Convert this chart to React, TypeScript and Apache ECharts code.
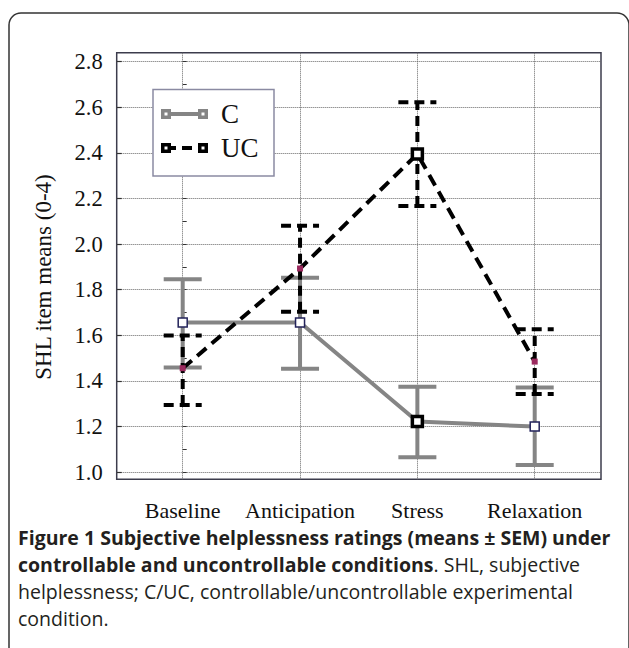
import React, { useEffect, useRef } from "react";
import * as echarts from "echarts";

const categories = ["Baseline", "Anticipation", "Stress", "Relaxation"];
const cMeans = [1.656, 1.656, 1.222, 1.2];
const cUpper = [1.846, 1.852, 1.375, 1.371];
const cLower = [1.459, 1.454, 1.066, 1.032];
const ucMeans = [1.456, 1.893, 2.395, 1.485];
const ucUpper = [1.599, 2.08, 2.622, 1.627];
const ucLower = [1.295, 1.704, 2.167, 1.343];
const yLabelTicks = [1.0, 1.2, 1.4, 1.6, 1.8, 2.0, 2.2, 2.4, 2.6, 2.8];
const yMinorTicks = [1.0, 1.1, 1.2, 1.3, 1.4, 1.5, 1.6, 1.7, 1.8, 1.9, 2.0, 2.1, 2.2, 2.3, 2.4, 2.5, 2.6, 2.7, 2.8];
const xTicks = [0, 1, 2, 3];
const yAxisTitle = "SHL item means (0-4)";
const legendNames = ["C", "UC"];

const SERIF = "'Liberation Serif', 'Times New Roman', serif";
const SANS = "'Open Sans', 'Noto Sans', sans-serif";
const CAP = 19.5;

function errorBarSeries(name: string, lower: number[], upper: number[], color: string, dash: any, z: number) {
  return {
    type: "custom",
    name,
    z,
    silent: true,
    data: lower.map((lo, i) => [i, lo, upper[i]]),
    renderItem: (params: any, api: any) => {
      const x = api.value(0);
      const pLo = api.coord([x, api.value(1)]);
      const pHi = api.coord([x, api.value(2)]);
      const half = 19;
      const style = { stroke: color, lineWidth: 4, lineDash: dash, fill: null };
      return {
        type: "group",
        children: [
          { type: "line", shape: { x1: pLo[0], y1: pLo[1], x2: pHi[0], y2: pHi[1] }, style },
          { type: "line", shape: { x1: pHi[0] - half, y1: pHi[1], x2: pHi[0] + half, y2: pHi[1] }, style },
          { type: "line", shape: { x1: pLo[0] - half, y1: pLo[1], x2: pLo[0] + half, y2: pLo[1] }, style },
        ],
      };
    },
  };
}

const whiteSq = { color: "#ffffff", borderColor: "#22225a", borderWidth: 1.5 };
const blackSq = { color: "#ffffff", borderColor: "#000000", borderWidth: 3.5 };
const magenta = { color: "#9b2a5e", borderColor: "#9b2a5e", borderWidth: 0 };
const cMarkerStyles = [whiteSq, whiteSq, blackSq, whiteSq];
const cMarkerSizes = [9, 9, 10, 9];
const ucMarkerStyles = [magenta, magenta, blackSq, magenta];
const ucMarkerSizes = [6, 6, 10, 6];

export default function App() {
  const ref = useRef<HTMLDivElement>(null);
  useEffect(() => {
    if (!ref.current) return;
    const chart = echarts.init(ref.current, null, { renderer: "svg" });
    const legendSq = (x: number, y: number, c: string) => [
      { type: "rect", shape: { x: x - 5, y: y - 5, width: 10, height: 10 }, style: { fill: c }, z: 12 },
      { type: "rect", shape: { x: x - 1.5, y: y - 1.5, width: 3, height: 3 }, style: { fill: "#fff" }, z: 13 },
    ];
    const option: any = {
      animation: false,
      backgroundColor: "#ffffff",
      grid: {
        left: 116.7,
        top: 52.7,
        width: 484.3,
        height: 426.6,
        show: true,
        borderColor: "#3c3c4c",
        borderWidth: 1.5,
        backgroundColor: "#ffffff",
        z: 0,
      },
      xAxis: {
        type: "value",
        min: -0.5625,
        max: 3.565,
        axisLine: { show: false },
        axisTick: { show: false, customValues: xTicks },
        axisLabel: {
          customValues: xTicks,
          formatter: (v: number) => categories[Math.round(v)] ?? "",
          fontFamily: SERIF,
          fontSize: 22,
          color: "#111",
          margin: 20,
        },
        splitLine: { show: true, lineStyle: { color: "#666", width: 1, type: [1, 1] } },
      },
      yAxis: [
        {
          type: "value",
          min: 0.969,
          max: 2.839,
          position: "left",
          axisLine: { show: false },
          axisTick: { show: true, inside: true, length: 4, customValues: yMinorTicks, lineStyle: { color: "#333", width: 1 } },
          axisLabel: {
            customValues: yLabelTicks,
            formatter: (v: number) => v.toFixed(1),
            fontFamily: SERIF,
            fontSize: 22.5,
            color: "#111",
            margin: 14,
          },
          splitLine: { show: false },
        },
        {
          type: "value",
          min: 0.969,
          max: 2.839,
          position: "left",
          axisLine: { show: false },
          axisTick: { show: true, inside: true, length: 5, customValues: yLabelTicks, lineStyle: { color: "#333", width: 1.2 } },
          axisLabel: { show: false },
          splitLine: { show: true, lineStyle: { color: "#666", width: 1, type: [1, 1] } },
        },
      ],
      series: [
        errorBarSeries("C err", cLower, cUpper, "#858585", null, 2),
        {
          type: "line",
          name: legendNames[0],
          z: 3,
          data: cMeans.map((v, i) => ({ value: [i, v], itemStyle: cMarkerStyles[i], symbolSize: cMarkerSizes[i] })),
          symbol: "rect",
          lineStyle: { color: "#858585", width: 4 },
          itemStyle: { color: "#858585" },
        },
        errorBarSeries("UC err", ucLower, ucUpper, "#000000", [10, 6], 4),
        {
          type: "line",
          name: legendNames[1],
          z: 5,
          data: ucMeans.map((v, i) => ({ value: [i, v], itemStyle: ucMarkerStyles[i], symbolSize: ucMarkerSizes[i] })),
          symbol: "rect",
          lineStyle: { color: "#000000", width: 4, type: [12, 7] },
          itemStyle: { color: "#000000" },
        },
      ],
      graphic: [
        {
          type: "rect",
          shape: { x: 9, y: 13, width: 620, height: 700, r: 12 },
          style: { fill: "none", stroke: "#333", lineWidth: 1.5 },
          z: -1,
          silent: true,
        },
        {
          type: "text",
          x: 43,
          y: 277,
          rotation: Math.PI / 2,
          style: {
            text: yAxisTitle,
            fontFamily: SERIF,
            fontSize: 23,
            fill: "#111",
            textAlign: "center",
            textVerticalAlign: "middle",
          },
          z: 10,
        },
        {
          type: "rect",
          shape: { x: 153, y: 89.5, width: 121, height: 86.5 },
          style: { fill: "#fff", stroke: "#8a8aa2", lineWidth: 1.5 },
          z: 10,
        },
        { type: "line", shape: { x1: 166, y1: 114, x2: 203, y2: 114 }, style: { stroke: "#858585", lineWidth: 4 }, z: 11 },
        ...legendSq(166, 114, "#858585"),
        ...legendSq(203, 114, "#858585"),
        { type: "line", shape: { x1: 166, y1: 148, x2: 203, y2: 148 }, style: { stroke: "#000", lineWidth: 4, lineDash: [10, 6] }, z: 11 },
        ...legendSq(166, 148, "#000"),
        ...legendSq(203, 148, "#000"),
        {
          type: "text",
          x: 221,
          y: 114,
          style: { text: legendNames[0], fontFamily: SERIF, fontSize: 27, fill: "#111", textVerticalAlign: "middle" },
          z: 12,
        },
        {
          type: "text",
          x: 221,
          y: 148,
          style: { text: legendNames[1], fontFamily: SERIF, fontSize: 27, fill: "#111", textVerticalAlign: "middle" },
          z: 12,
        },
        {
          type: "text",
          x: 18,
          y: 537,
          style: {
            text: "Figure 1 Subjective helplessness ratings (means ± SEM) under",
            fontFamily: SANS,
            fontSize: CAP,
            fontWeight: "bold",
            fill: "#231f20",
            textVerticalAlign: "middle",
          },
        },
        {
          type: "text",
          x: 18,
          y: 564,
          style: {
            text: "{b|controllable and uncontrollable conditions}{r|. SHL, subjective}",
            textVerticalAlign: "middle",
            rich: {
              b: { fontFamily: SANS, fontSize: CAP, fontWeight: "bold", fill: "#231f20" },
              r: { fontFamily: SANS, fontSize: CAP, fill: "#231f20" },
            },
          },
        },
        {
          type: "text",
          x: 18,
          y: 591,
          style: {
            text: "helplessness; C/UC, controllable/uncontrollable experimental",
            fontFamily: SANS,
            fontSize: CAP,
            fill: "#231f20",
            textVerticalAlign: "middle",
          },
        },
        {
          type: "text",
          x: 18,
          y: 618,
          style: { text: "condition.", fontFamily: SANS, fontSize: CAP, fill: "#231f20", textVerticalAlign: "middle" },
        },
      ],
    };
    chart.setOption(option);
    return () => chart.dispose();
  }, []);
  return (
    <div
      ref={ref}
      style={{ position: "fixed", left: 0, top: 0, width: 629, height: 648, background: "#fff" }}
    />
  );
}
